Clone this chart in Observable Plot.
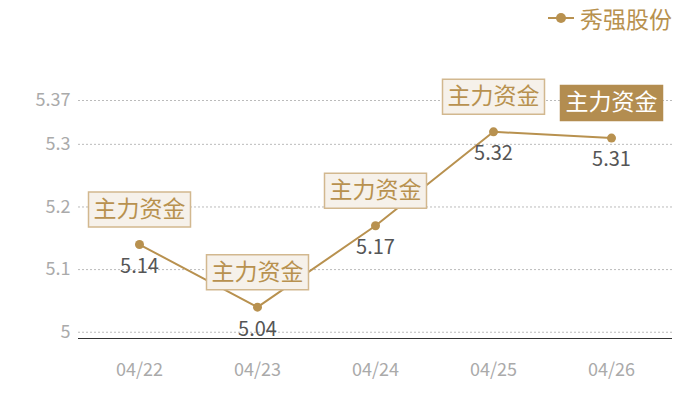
<!DOCTYPE html>
<html>
<head>
<meta charset="utf-8">
<script src="https://cdn.jsdelivr.net/npm/d3@7"></script>
<script src="https://cdn.jsdelivr.net/npm/@observablehq/plot@0.6"></script>
<style>
  body { margin: 0; background: #fff; font-family: "Noto Sans CJK SC", "Noto Sans", sans-serif; }
  #wrap { position: relative; width: 700px; height: 400px; }
  #legend { position: absolute; top: 0; left: 548px; height: 36px; display: flex; align-items: center; color: #b8914f; font-size: 23px; }
  #legend svg { margin-right: 6px; }
</style>
</head>
<body>
<div id="wrap">
  <div id="legend"><svg width="26" height="12"><line x1="0" y1="6" x2="26" y2="6" stroke="#b8914f" stroke-width="2"/><circle cx="13" cy="6" r="5" fill="#b8914f"/></svg><span>秀强股份</span></div>
</div>
<script>
const dates = ["04/22", "04/23", "04/24", "04/25", "04/26"];
const prices = [5.14, 5.04, 5.17, 5.32, 5.31];
const labels = ["主力资金", "主力资金", "主力资金", "主力资金", "主力资金"];
const highlighted = [false, false, false, false, true];
const yTicks = [5, 5.1, 5.2, 5.3, 5.37];
const seriesName = "秀强股份";

const data = dates.map((d, i) => ({date: d, price: prices[i], label: labels[i], hi: highlighted[i]}));
const color = "#b8914f";
const boxSymbol = { draw(ctx) { ctx.rect(-51, -17.5, 102, 35); } };

const chart = Plot.plot({
  width: 700,
  height: 400,
  marginLeft: 78,
  marginRight: 28,
  marginTop: 100,
  marginBottom: 62,
  style: { fontFamily: "'Noto Sans CJK SC', 'Noto Sans', sans-serif", background: "transparent", overflow: "visible" },
  x: { type: "point", domain: dates, padding: 0.5, label: null },
  y: { domain: [4.99, 5.37], label: null },
  marks: [
    Plot.gridY(yTicks, { stroke: "#bbb", strokeOpacity: 1, strokeDasharray: "2,2" }),
    Plot.axisY(yTicks, { tickSize: 0, tickPadding: 8, fontSize: 18, fill: "#aaa", tickFormat: d => String(d) }),
    Plot.axisX({ tickSize: 0, tickPadding: 25, fontSize: 18, fill: "#aaa" }),
    Plot.ruleY([4.99], { stroke: "#333", strokeWidth: 1.2 }),
    Plot.line(data, { x: "date", y: "price", stroke: color, strokeWidth: 2 }),
    Plot.dot(data, { x: "date", y: "price", r: 4.5, fill: color }),
    Plot.text(data, { x: "date", y: "price", text: d => d.price.toFixed(2), dy: 22, fontSize: 20, fill: "#555" }),
    Plot.dot(data, { x: "date", y: "price", dy: -35, symbol: boxSymbol, r: 1,
      fill: d => d.hi ? "#b38d50" : "#f6f1ea", stroke: d => d.hi ? "#b38d50" : "#d2b88f", strokeWidth: 1.5 }),
    Plot.text(data, { x: "date", y: "price", dy: -35, text: "label", fontSize: 23,
      fill: d => d.hi ? "#ffffff" : color })
  ]
});
document.getElementById("wrap").prepend(chart);
chart.style.position = "absolute";
chart.style.left = "0";
chart.style.top = "0";
</script>
</body>
</html>
